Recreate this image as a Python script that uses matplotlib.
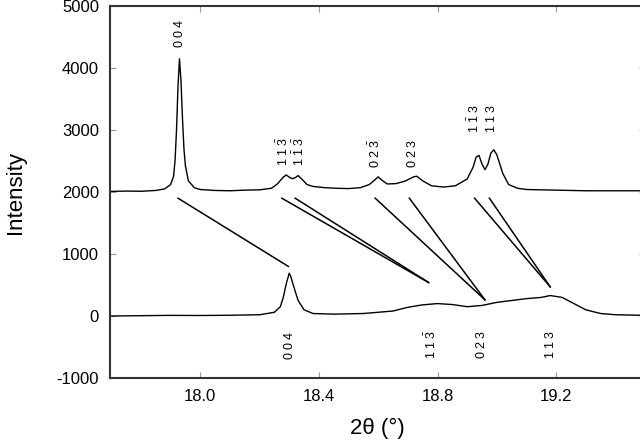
import matplotlib
matplotlib.use("Agg")
import matplotlib.pyplot as plt

plt.rcParams['font.family'] = ['Liberation Sans', 'DejaVu Sans']
plt.rcParams['mathtext.fontset'] = 'custom'
plt.rcParams['mathtext.rm'] = 'Liberation Sans'
plt.rcParams['mathtext.it'] = 'Liberation Sans'
plt.rcParams['axes.unicode_minus'] = False

# upper pattern (2theta, intensity)
top_x = [17.70, 17.75, 17.80, 17.85, 17.88, 17.90, 17.91, 17.915, 17.92, 17.925, 17.93,
         17.935, 17.94, 17.945, 17.95, 17.96, 17.98, 18.00, 18.05, 18.10, 18.15, 18.20,
         18.24, 18.26, 18.28, 18.29, 18.30, 18.31, 18.32, 18.33, 18.34, 18.36, 18.38,
         18.42, 18.46, 18.50, 18.54, 18.57, 18.59, 18.60, 18.61, 18.63, 18.66, 18.69,
         18.72, 18.73, 18.75, 18.78, 18.82, 18.86, 18.90, 18.92, 18.93, 18.94, 18.95,
         18.96, 18.97, 18.98, 18.99, 19.00, 19.02, 19.04, 19.07, 19.10, 19.20, 19.30,
         19.40, 19.50]
top_y = [2010, 2015, 2012, 2025, 2050, 2120, 2250, 2500, 3000, 3700, 4150,
         3800, 3200, 2700, 2420, 2180, 2070, 2040, 2025, 2020, 2030, 2035,
         2060, 2130, 2240, 2275, 2240, 2215, 2230, 2265, 2220, 2120, 2090,
         2070, 2060, 2055, 2070, 2120, 2200, 2245, 2200, 2130, 2135, 2175,
         2245, 2255, 2180, 2100, 2080, 2100, 2210, 2400, 2560, 2590, 2450,
         2360, 2450, 2630, 2680, 2600, 2300, 2120, 2060, 2040, 2030, 2020,
         2020, 2020]

# lower pattern
bot_x = [17.70, 17.80, 17.90, 18.00, 18.10, 18.20, 18.25, 18.27, 18.28, 18.29, 18.30,
         18.305, 18.31, 18.32, 18.33, 18.35, 18.38, 18.45, 18.55, 18.65, 18.70, 18.75,
         18.80, 18.85, 18.90, 18.95, 19.00, 19.05, 19.10, 19.15, 19.18, 19.22, 19.26,
         19.30, 19.35, 19.40, 19.50]
bot_y = [0, 5, 10, 8, 12, 20, 60, 150, 300, 520, 690,
         640, 560, 400, 250, 100, 40, 30, 40, 80, 140, 180,
         200, 185, 150, 170, 220, 250, 280, 300, 330, 300, 200,
         100, 40, 20, 10]

# tie lines between the two patterns
tie_x0 = [17.925, 18.275, 18.32, 18.59, 18.705, 18.925, 18.975]
tie_y0 = [1900, 1900, 1900, 1900, 1900, 1900, 1900]
tie_x1 = [18.297, 18.77, 18.77, 18.96, 18.96, 19.18, 19.18]
tie_y1 = [800, 540, 540, 260, 260, 470, 470]

# reflection labels
top_lab = [r'$0\ 0\ 4$', r'$1\ 1\ \bar{3}$', r'$1\ \bar{1}\ \bar{3}$', r'$0\ 2\ \bar{3}$',
           r'$0\ 2\ 3$', r'$1\ \bar{1}\ 3$', r'$1\ 1\ 3$']
top_lab_x = [17.93, 18.28, 18.335, 18.59, 18.715, 18.925, 18.983]
top_lab_y = [4330, 2420, 2420, 2380, 2380, 2950, 2950]
bot_lab = [r'$0\ 0\ 4$', r'$1\ 1\ \bar{3}$', r'$0\ 2\ 3$', r'$1\ 1\ 3$']
bot_lab_x = [18.30, 18.78, 18.95, 19.18]
bot_lab_y = [-230, -230, -230, -230]

fig = plt.figure(figsize=(6.4, 4.46), dpi=100)
ax = fig.add_axes([0.172, 0.1525, 0.836, 0.834])

ax.plot(top_x, top_y, c='k', lw=1)
ax.plot(bot_x, bot_y, c='k', lw=1)
for i in range(len(tie_x0)):
    ax.plot([tie_x0[i], tie_x1[i]], [tie_y0[i], tie_y1[i]], c='k', lw=1.1)

for s, x, y in zip(top_lab, top_lab_x, top_lab_y):
    ax.text(x, y, s, rotation=90, ha='center', va='bottom', fontsize=9)
for s, x, y in zip(bot_lab, bot_lab_x, bot_lab_y):
    ax.text(x, y, s, rotation=90, ha='center', va='top', fontsize=9)

ax.set_xlim(17.696, 19.5)
ax.set_ylim(-1000, 5000)
ax.set_xticks([18.0, 18.4, 18.8, 19.2])
ax.set_xticklabels(['18.0', '18.4', '18.8', '19.2'])
ax.set_yticks([-1000, 0, 1000, 2000, 3000, 4000, 5000])
ax.tick_params(direction='in', top=True, right=True, labelsize=12, length=4,
               color='#999999', pad=8)
for sp in ax.spines.values():
    sp.set_linewidth(1.5)
    sp.set_color('#333333')

ax.set_xlabel('2θ (°)', fontsize=16, labelpad=10)
ax.set_ylabel('Intensity', fontsize=16, labelpad=22)

plt.savefig('out.png', dpi=100)
